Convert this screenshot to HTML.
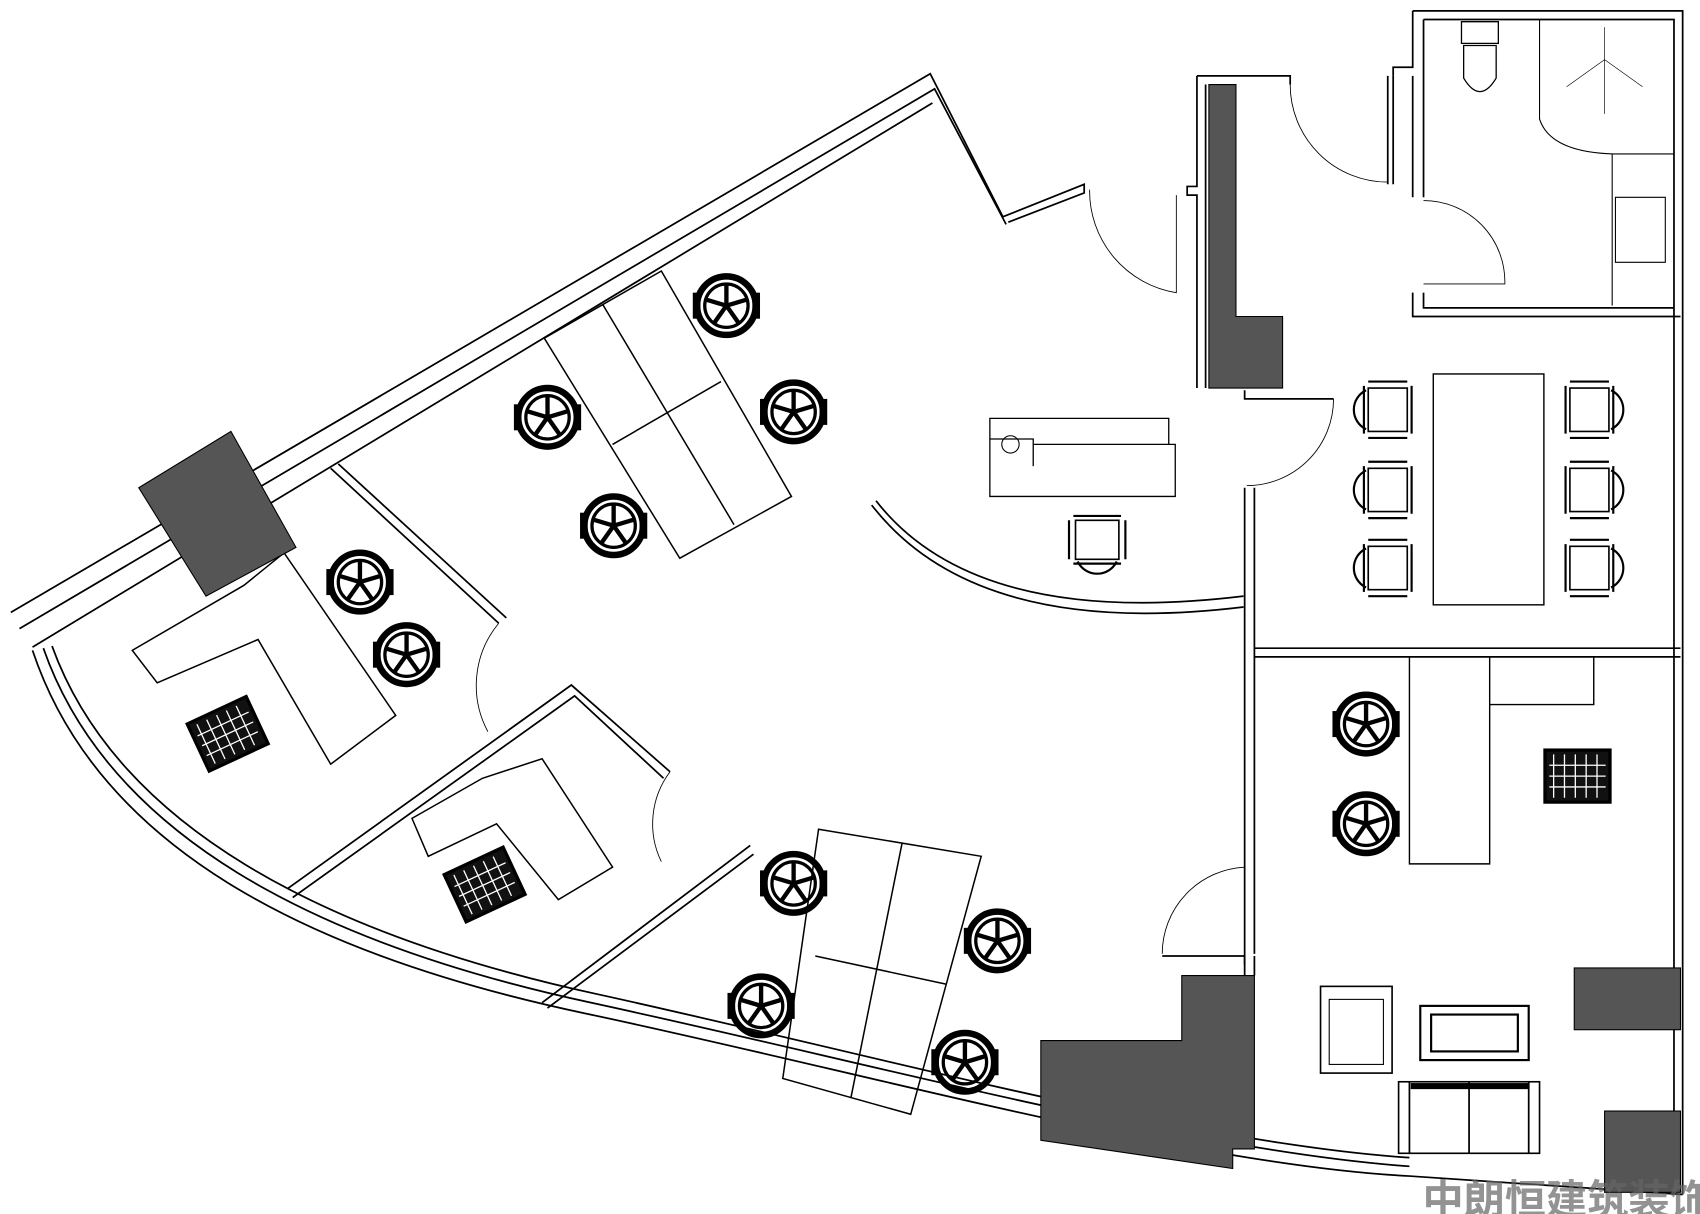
<!DOCTYPE html>
<html><head><meta charset="utf-8"><style>
html,body{margin:0;padding:0;background:#fff;}
svg{display:block}
</style></head><body>
<svg width="1700" height="1214" viewBox="0 0 1568 1120" preserveAspectRatio="none" xmlns="http://www.w3.org/2000/svg">
<defs>
<g id="ch">
<circle r="27" fill="none" stroke="#000" stroke-width="6"/>
<circle r="20" fill="none" stroke="#000" stroke-width="3"/>
<path d="M0 0L0-21M0 0L20-6M0 0L12 17M0 0L-12 17M0 0L-20-6" stroke="#000" stroke-width="4"/>
<rect x="-31" y="-12" width="7" height="24" fill="#000"/><rect x="24" y="-12" width="7" height="24" fill="#000"/>
</g>
<g id="gc">
<rect x="-30" y="-24" width="60" height="48" fill="#111" stroke="#000" stroke-width="3"/>
<path d="M-22-20V20M-12-20V20M-2-20V20M8-20V20M18-20V20M-26-10H26M-26 0H26M-26 10H26" stroke="#fff" stroke-width="1.2"/>
</g>
<g id="mc">
<path d="M-22-22h44M-22 22h44M-26-18v36M26-18v36" stroke="#000" stroke-width="2" fill="none"/>
<path d="M-18-20 A20 20 0 0 1 18 -20" fill="none" stroke="#000" stroke-width="2"/>
<path d="M-20-18h40v36h-40z" fill="none" stroke="#000" stroke-width="1.5"/>
</g>
</defs>
<g fill="none" stroke="#000" stroke-width="1.6">
<path d="M10 565L858 68L925 200L1000 170L1000 178L930 205"/>
<path d="M18 580L862 82L928 207"/>
<path d="M30 597L860 95"/>
<path d="M30 600C90 780 280 880 540 935S1100 1075 1300 1085L1552 1102"/>
<path d="M40 598C100 770 290 870 545 925S1100 1062 1300 1076"/>
<path d="M48 596C108 762 298 862 550 917S1100 1055 1300 1068"/>
<path d="M1303 10H1552V1102M1303 10V62H1285V70M1313 18H1544V1100"/>
<path d="M1303 70V182M1313 18V182"/>
<path d="M1303 270V292H1550M1313 270V284H1544"/>
<path d="M1104 70H1190V78M1104 70V172H1095V180H1104V358M1112 78V358"/>
<path d="M1280 70V170M1285 70V170"/>
<path d="M1148 360V368H1230M1148 450V900M1157 450V600V880"/>
<path d="M1157 598H1550M1157 606H1550"/>
<path d="M1148 890V882H1072M1157 882V900"/>
<path d="M305 432L460 575M312 428L467 570"/>
<path d="M265 820L527 632L618 712M270 828L530 642L612 718"/>
<path d="M500 925L692 780M505 930L695 788"/>
<path d="M808 462Q900 580 1147 550M804 466Q900 590 1147 560"/>
<path d="M1005 175A95 95 0 0 0 1085 270L1085 180" stroke-width="0.8"/>
<path d="M1190 78A90 90 0 0 0 1280 168" stroke-width="0.8"/>
<path d="M1313 185A75 75 0 0 1 1388 262L1313 262" stroke-width="0.8"/>
<path d="M1230 368A80 80 0 0 1 1150 448" stroke-width="0.8"/>
<path d="M460 575A90 90 0 0 0 450 675" stroke-width="0.8"/>
<path d="M618 712A80 80 0 0 0 610 795" stroke-width="0.8"/>
<path d="M1148 800A80 80 0 0 0 1072 880" stroke-width="0.8"/>
<path d="M1420 18V110Q1430 140 1487 142H1544M1487 142V282M1490 182H1536V242H1490Z" stroke-width="1"/>
<path d="M1480 25V55M1480 55L1445 80M1480 55L1515 80M1480 55V105" stroke-width="0.6"/>
<path d="M1348 20H1382V40H1348ZM1350 42h30v30q-15 25-30 0z" stroke-width="1.2"/>
<path d="M502 312L610 250L730 458L627 515Z M556 281L677 484M565 410L665 352" stroke-width="1.4"/>
<path d="M122 600L225 540L262 510L365 660L305 705L238 590L145 630Z" stroke-width="1.4"/>
<path d="M380 755L445 718L500 700L565 800L515 830L458 760L395 790Z" stroke-width="1.4"/>
<path d="M755 765L905 790L840 1028L722 995Z M832 778L785 1012M752 882L873 908" stroke-width="1.4"/>
<path d="M913 386H1078V410H1084V458H913Z M953 410H1078M913 405H953V430" stroke-width="1.2"/>
<circle cx="932" cy="410" r="8" stroke-width="1"/>
<rect x="1322" y="345" width="102" height="213" stroke-width="1.3"/>
<path d="M1300 606V797H1374V606M1374 606V650H1470V606" stroke-width="1.3"/>
<rect x="1218" y="910" width="66" height="80" stroke-width="1.5"/><rect x="1226" y="922" width="50" height="60" stroke-width="1"/>
<rect x="1310" y="928" width="100" height="50" stroke-width="2"/><rect x="1320" y="936" width="80" height="34" stroke-width="2"/>
<rect x="1290" y="998" width="130" height="66" stroke-width="1.5"/><path d="M1355 998V1064M1300 998V1064M1410 998V1064"/>
<rect x="1302" y="1000" width="108" height="4" fill="#000"/>
</g>
<g fill="#555" stroke="#000" stroke-width="1">
<polygon points="128,450 213,398 273,505 190,550"/>
<polygon points="1115,78 1140,78 1140,292 1183,292 1183,358 1115,358"/>
<polygon points="960,960 1090,960 1090,900 1157,900 1157,1060 1137,1060 1137,1078 960,1052"/>
<rect x="1452" y="893" width="98" height="57"/>
<rect x="1480" y="1025" width="70" height="75"/>
</g>
<use href="#ch" x="670" y="282"/><use href="#ch" x="505" y="385"/><use href="#ch" x="732" y="380"/><use href="#ch" x="566" y="485"/>
<use href="#ch" x="332" y="537"/><use href="#ch" x="375" y="604"/>
<use href="#ch" x="732" y="815"/><use href="#ch" x="920" y="868"/><use href="#ch" x="702" y="928"/><use href="#ch" x="890" y="980"/>
<use href="#ch" x="1260" y="668"/><use href="#ch" x="1260" y="760"/>
<use href="#gc" transform="translate(210 677) rotate(-25)"/>
<use href="#gc" transform="translate(447 816) rotate(-25)"/>
<use href="#gc" transform="translate(1455 716)"/>
<use href="#mc" transform="translate(1280 378) rotate(-90)"/><use href="#mc" transform="translate(1280 452) rotate(-90)"/><use href="#mc" transform="translate(1280 524) rotate(-90)"/>
<use href="#mc" transform="translate(1466 378) rotate(90)"/><use href="#mc" transform="translate(1466 452) rotate(90)"/><use href="#mc" transform="translate(1466 524) rotate(90)"/>
<use href="#mc" transform="translate(1012 498) rotate(180)"/>
<text x="1312" y="1120" font-family="Liberation Sans, Noto Sans CJK SC, sans-serif" font-size="38" font-weight="bold" fill="#666" opacity="0.7">中朗恒建筑装饰</text>
</svg>
</body></html>
